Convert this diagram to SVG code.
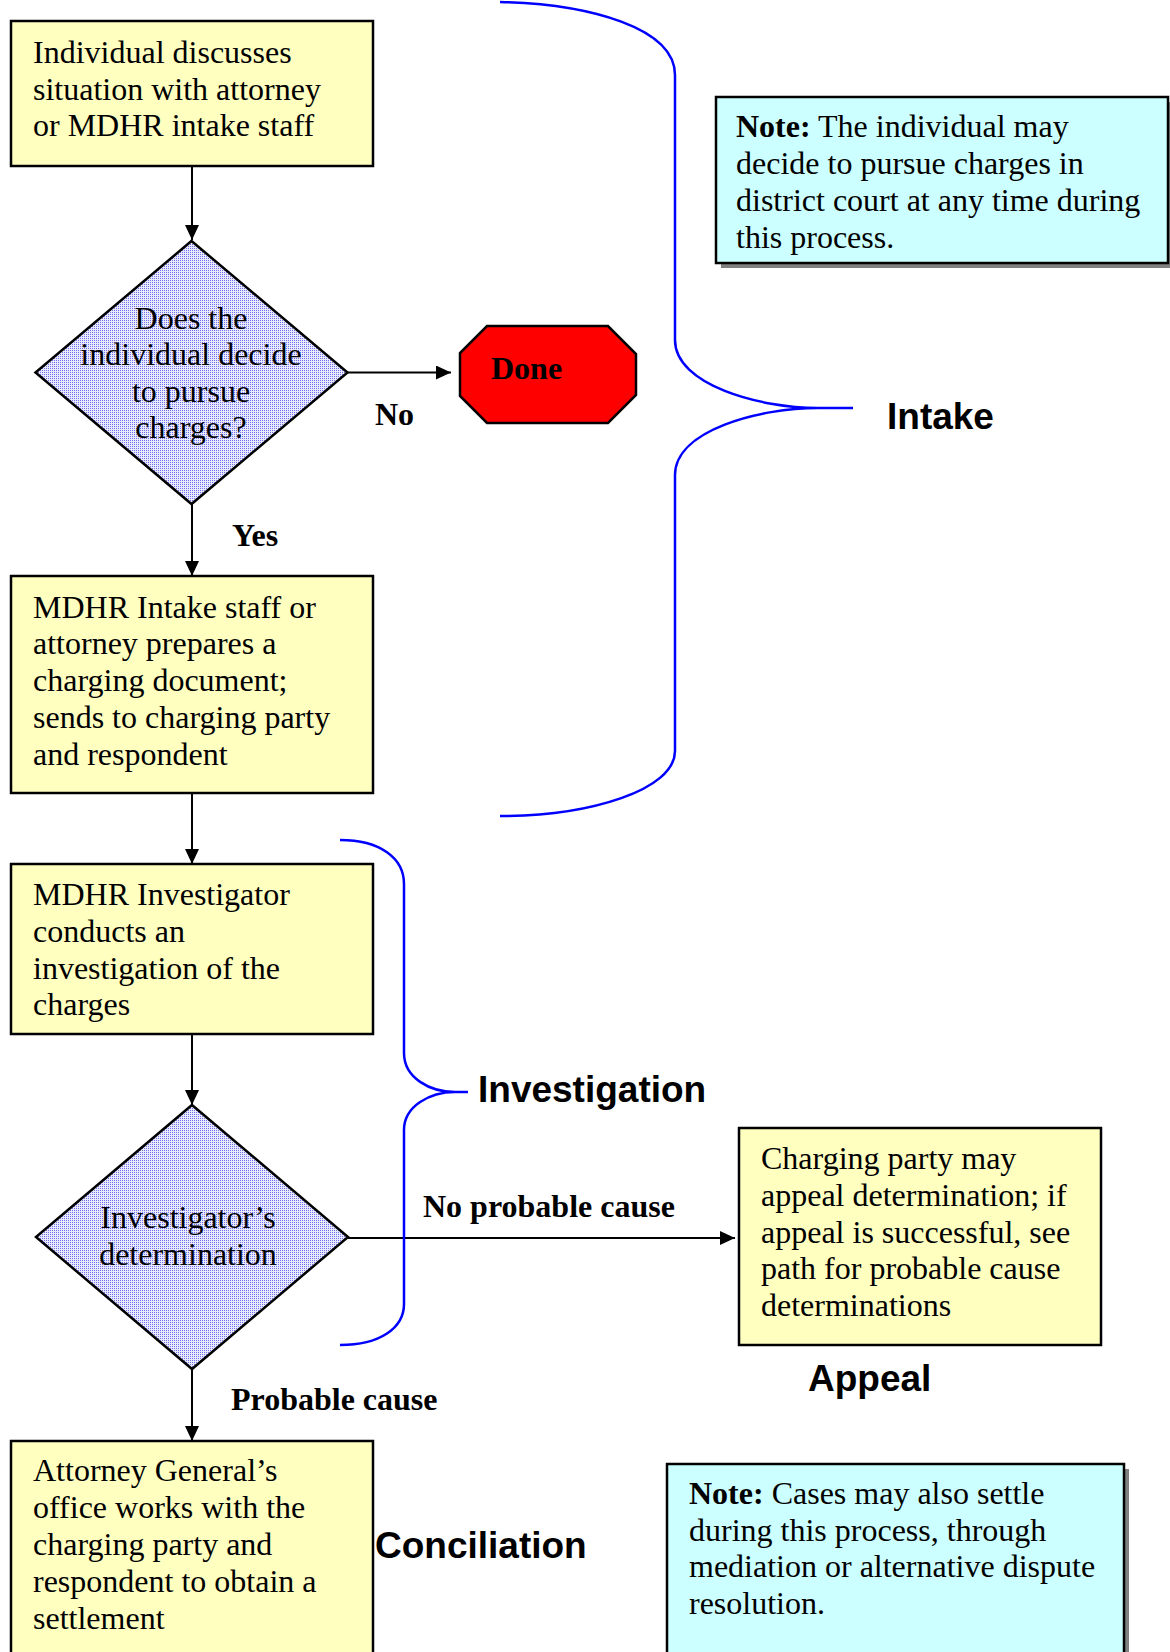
<svg xmlns="http://www.w3.org/2000/svg" width="1170" height="1652" viewBox="0 0 1170 1652">
<defs>
<pattern id="dots" width="2" height="2" patternUnits="userSpaceOnUse">
<rect width="2" height="2" fill="#eaeaff"/>
<rect width="1" height="1" fill="#7070ee"/>
</pattern>
<marker id="arr" markerUnits="userSpaceOnUse" markerWidth="16" markerHeight="15" refX="15" refY="7" orient="auto">
<path d="M0,0 L15,7 L0,14 z" fill="#000"/>
</marker>
</defs>
<style>
.box{fill:#ffffc0;stroke:#000;stroke-width:2.5}
.note{fill:#ccffff;stroke:#000;stroke-width:2.5}
.shadow{fill:#808080}
.dia{fill:url(#dots);stroke:#000;stroke-width:2.5}
.t{font-family:"Liberation Serif","Times New Roman",serif;font-size:32px;fill:#000}
.tb{font-family:"Liberation Serif","Times New Roman",serif;font-size:32px;font-weight:bold;fill:#000}
.ph{font-family:"Liberation Sans",Arial,sans-serif;font-size:37px;font-weight:bold;fill:#000}
.c{stroke:#000;stroke-width:2;fill:none;marker-end:url(#arr)}
.brace{stroke:#0000ff;stroke-width:2.5;fill:none}
</style>
<rect width="1170" height="1652" fill="#fff"/>

<g id="connectors">
<line class="c" x1="192" y1="166" x2="192" y2="240"/>
<line class="c" x1="348" y1="372.5" x2="451" y2="372.5"/>
<line class="c" x1="192" y1="504" x2="192" y2="576"/>
<line class="c" x1="192" y1="793" x2="192" y2="864"/>
<line class="c" x1="192" y1="1034" x2="192" y2="1105"/>
<line class="c" x1="348" y1="1238" x2="735" y2="1238"/>
<line class="c" x1="192" y1="1369" x2="192" y2="1441"/>
</g>

<g id="brace-intake">
<path class="brace" d="M500,2 C590,4 675,28 675,75 L675,340 C675,385 760,408 818,408 L853,408 M818,408 C760,408 675,430 675,475 L675,751 C675,790 590,816 500,816"/>
</g>
<g id="brace-investigation">
<path class="brace" d="M340,840 C380,840 404,858 404,884 L404,1053 C404,1078 430,1092 455,1092 L468,1092 M455,1092 C430,1092 404,1106 404,1130 L404,1304 C404,1328 380,1345 340,1345"/>
</g>

<g id="n1">
<rect class="box" x="11" y="21" width="362" height="145"/>
<text class="t" x="33" y="63">Individual discusses</text>
<text class="t" x="33" y="99.5">situation with attorney</text>
<text class="t" x="33" y="136">or MDHR intake staff</text>
</g>

<g id="d1">
<polygon class="dia" points="191.5,241 347.5,372.5 191.5,504 35.5,372.5"/>
<text class="t" text-anchor="middle" x="191" y="328.5">Does the</text>
<text class="t" text-anchor="middle" x="191" y="365">individual decide</text>
<text class="t" text-anchor="middle" x="191" y="401.5">to pursue</text>
<text class="t" text-anchor="middle" x="191" y="437.5">charges?</text>
</g>

<g id="done">
<polygon points="487,326 608,326 636,354 636,395 608,423 487,423 460,396 460,353" fill="#ff0000" stroke="#000" stroke-width="2.5"/>
<text class="tb" x="491" y="379">Done</text>
</g>

<g id="lbl-no"><text class="tb" x="375" y="425">No</text></g>
<g id="lbl-yes"><text class="tb" x="232" y="546">Yes</text></g>

<g id="note1">
<rect class="shadow" x="721" y="102" width="452" height="166"/>
<rect class="note" x="716" y="97" width="452" height="166"/>
<text class="t" x="736" y="137"><tspan font-weight="bold">Note:</tspan> The individual may</text>
<text class="t" x="736" y="174">decide to pursue charges in</text>
<text class="t" x="736" y="211">district court at any time during</text>
<text class="t" x="736" y="248">this process.</text>
</g>

<g id="lbl-intake"><text class="ph" x="887" y="429">Intake</text></g>

<g id="n2">
<rect class="box" x="11" y="576" width="362" height="217"/>
<text class="t" x="33" y="617.5">MDHR Intake staff or</text>
<text class="t" x="33" y="654.3">attorney prepares a</text>
<text class="t" x="33" y="691.1">charging document;</text>
<text class="t" x="33" y="727.9">sends to charging party</text>
<text class="t" x="33" y="764.7">and respondent</text>
</g>

<g id="n3">
<rect class="box" x="11" y="864" width="362" height="170"/>
<text class="t" x="33" y="905">MDHR Investigator</text>
<text class="t" x="33" y="941.8">conducts an</text>
<text class="t" x="33" y="978.6">investigation of the</text>
<text class="t" x="33" y="1015.4">charges</text>
</g>

<g id="lbl-investigation"><text class="ph" x="478" y="1102">Investigation</text></g>

<g id="d2">
<polygon class="dia" points="192,1105 348,1237 192,1369 36,1237"/>
<text class="t" text-anchor="middle" x="188" y="1228">Investigator’s</text>
<text class="t" text-anchor="middle" x="188" y="1265">determination</text>
</g>

<g id="lbl-npc"><text class="tb" x="423" y="1217">No probable cause</text></g>

<g id="appeal">
<rect class="box" x="739" y="1128" width="362" height="217"/>
<text class="t" x="761" y="1169">Charging party may</text>
<text class="t" x="761" y="1205.8">appeal determination; if</text>
<text class="t" x="761" y="1242.6">appeal is successful, see</text>
<text class="t" x="761" y="1279.4">path for probable cause</text>
<text class="t" x="761" y="1316.2">determinations</text>
</g>

<g id="lbl-appeal"><text class="ph" x="808" y="1391">Appeal</text></g>
<g id="lbl-pc"><text class="tb" x="231" y="1410">Probable cause</text></g>

<g id="n4">
<rect class="box" x="11" y="1441" width="362" height="240"/>
<text class="t" x="33" y="1481">Attorney General’s</text>
<text class="t" x="33" y="1517.9">office works with the</text>
<text class="t" x="33" y="1554.8">charging party and</text>
<text class="t" x="33" y="1591.7">respondent to obtain a</text>
<text class="t" x="33" y="1628.6">settlement</text>
</g>

<g id="lbl-conciliation"><text class="ph" x="375" y="1558">Conciliation</text></g>

<g id="note2">
<rect class="shadow" x="672" y="1469" width="457" height="240"/>
<rect class="note" x="667" y="1464" width="457" height="240"/>
<text class="t" x="689" y="1504"><tspan font-weight="bold">Note:</tspan> Cases may also settle</text>
<text class="t" x="689" y="1540.7">during this process, through</text>
<text class="t" x="689" y="1577.4">mediation or alternative dispute</text>
<text class="t" x="689" y="1614">resolution.</text>
</g>
</svg>
